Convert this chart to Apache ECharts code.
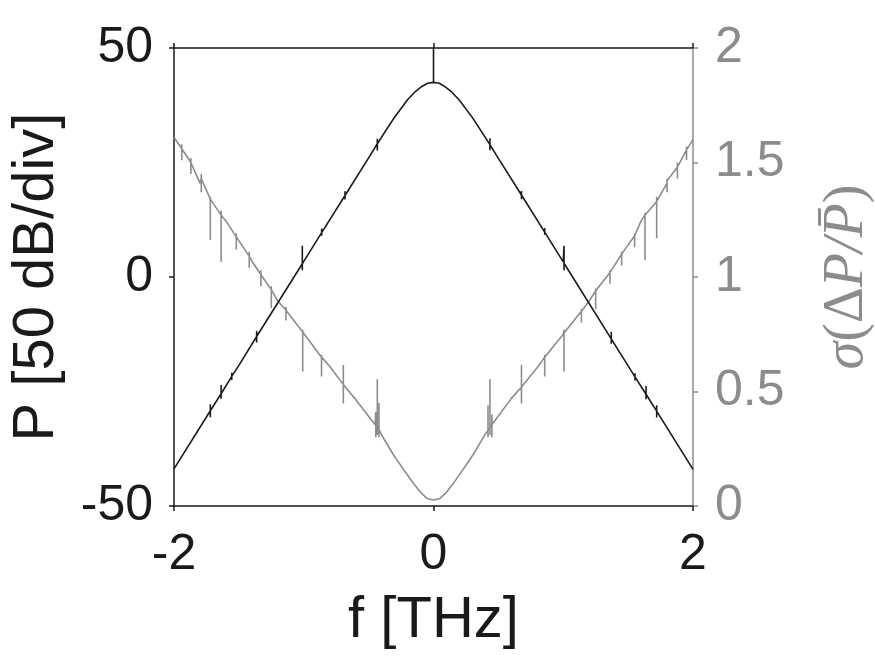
<!DOCTYPE html>
<html>
<head>
<meta charset="utf-8">
<script src="https://cdn.jsdelivr.net/npm/echarts@6/dist/echarts.min.js"></script>
<style>
  * { padding: 0; margin: 0; }
  html, body { width: 875px; height: 657px; background: #fff; }
  #chart { width: 875px; height: 657px; }
</style>
</head>
<body>
<div id="chart"></div>
<script>
// black curve: power spectrum [dB]
const powerX = [-2, -1.5, -1, -0.5, -0.3, -0.2, -0.14, -0.09, -0.045, 0, 0.045, 0.09, 0.14, 0.2, 0.3, 0.5, 1, 1.5, 2]
const powerDb = [-41.9, -19.3, 3.4, 26.0, 34.9, 38.7, 40.5, 41.6, 42.3, 42.5, 42.3, 41.5, 40.4, 38.6, 34.8, 25.9, 3.3, -19.4, -42.0]
// glitches on the black curve (x, value on curve, top, bottom)
const powerSpikeX = [-1.72, -1.637, -1.555, -1.363, -1.011, -0.862, -0.682, -0.433, 0, 0.435, 0.678, 0.857, 1.006, 1.37, 1.553, 1.638, 1.72]
const powerSpikeBase = [-29.2, -25.5, -21.7, -13.0, 2.9, 9.7, 17.8, 29.1, 42.5, 28.9, 17.9, 9.8, 3.0, -13.5, -21.8, -25.6, -29.3]
const powerSpikeHi = [-27.8, -23.6, -20.9, -11.8, 6.8, 10.6, 18.7, 30.2, 50, 30.3, 18.8, 10.7, 6.8, -12.0, -21.0, -23.8, -28.0]
const powerSpikeLo = [-30.6, -26.6, -22.5, -14.3, 1.5, 9.0, 16.9, 27.6, 42.5, 27.7, 17.0, 9.2, 1.5, -14.6, -22.6, -26.7, -30.7]

// gray curve: sigma(dP/P)
const sigmaX = [-2, -1.8, -1.6, -1.4, -1.2, -1.0, -0.8, -0.6, -0.45, -0.4, -0.31, -0.25, -0.155, -0.1, -0.05, 0, 0.05, 0.1, 0.155, 0.25, 0.31, 0.4, 0.45, 0.6, 0.8, 1.0, 1.2, 1.4, 1.6, 1.8, 2]
const sigmaV = [1.61, 1.41, 1.245, 1.07, 0.895, 0.755, 0.61, 0.465, 0.355, 0.31, 0.225, 0.175, 0.099, 0.06, 0.033, 0.026, 0.033, 0.06, 0.1, 0.178, 0.228, 0.315, 0.355, 0.47, 0.605, 0.75, 0.895, 1.055, 1.245, 1.41, 1.60]
const sigmaSpikeX = [-1.94, -1.87, -1.79, -1.72, -1.637, -1.52, -1.42, -1.33, -1.25, -1.137, -1.008, -0.863, -0.695, -0.445, -0.433, -0.42, 0.42, 0.435, 0.45, 0.678, 0.857, 1.006, 1.14, 1.25, 1.36, 1.45, 1.55, 1.63, 1.72, 1.80, 1.88, 1.95]
const sigmaSpikeBase = [1.56, 1.50, 1.43, 1.34, 1.27, 1.175, 1.09, 1.01, 0.945, 0.855, 0.76, 0.65, 0.53, 0.355, 0.345, 0.335, 0.33, 0.34, 0.355, 0.52, 0.65, 0.755, 0.85, 0.94, 1.02, 1.10, 1.18, 1.27, 1.33, 1.42, 1.48, 1.555]
const sigmaSpikeHi = [1.58, 1.52, 1.45, 1.35, 1.29, 1.19, 1.11, 1.03, 0.96, 0.87, 0.77, 0.66, 0.616, 0.41, 0.553, 0.45, 0.44, 0.553, 0.40, 0.616, 0.66, 0.77, 0.86, 0.95, 1.03, 1.11, 1.19, 1.28, 1.35, 1.43, 1.50, 1.57]
const sigmaSpikeLo = [1.51, 1.45, 1.37, 1.162, 1.067, 1.12, 1.04, 0.96, 0.865, 0.81, 0.587, 0.565, 0.448, 0.30, 0.31, 0.30, 0.30, 0.31, 0.30, 0.448, 0.565, 0.587, 0.80, 0.859, 0.97, 1.05, 1.13, 1.074, 1.169, 1.37, 1.43, 1.51]

const freqTicks = [-2, 0, 2]

const black = '#1a1a1a'
const gray = '#8c8c8c'

// merge the smooth curve and its glitches into one polyline, sorted on x
const buildLine = (xs, vs, sx, sb, sh, sl) => {
  const pts = xs.map((x, i) => [x, vs[i]])
  sx.forEach((x, i) => {
    pts.push([x, sb[i]], [x, sh[i]], [x, sl[i]], [x, sb[i]])
  })
  return pts.sort((a, b) => a[0] - b[0])
}

const powerLine = buildLine(powerX, powerDb, powerSpikeX, powerSpikeBase, powerSpikeHi, powerSpikeLo)
const sigmaLine = buildLine(sigmaX, sigmaV, sigmaSpikeX, sigmaSpikeBase, sigmaSpikeHi, sigmaSpikeLo)

const sans = 'Liberation Sans, Arial, sans-serif'

const charts = echarts.init(document.getElementById('chart'))
charts.setOption({
  animation: false,
  backgroundColor: '#fff',
  grid: { left: 174, right: 182, top: 48, bottom: 151, containLabel: false, outerBoundsMode: 'none' },
  xAxis: [
    {
      type: 'value',
      position: 'bottom',
      min: freqTicks[0],
      max: freqTicks[freqTicks.length - 1],
      interval: 2,
      name: 'f [THz]',
      nameLocation: 'middle',
      nameGap: 86,
      nameTextStyle: { fontSize: 58, color: black, fontFamily: sans },
      axisLine: { onZero: false, lineStyle: { color: black, width: 1.5 } },
      axisTick: { length: 5, lineStyle: { color: black, width: 1.5 } },
      axisLabel: { fontSize: 50, color: black, fontFamily: sans, margin: 24 },
      splitLine: { show: false }
    },
    {
      type: 'value',
      position: 'top',
      min: -2,
      max: 2,
      interval: 2,
      axisLine: { onZero: false, lineStyle: { color: black, width: 1.5 } },
      axisTick: { length: 5, lineStyle: { color: black, width: 1.5 } },
      axisLabel: { show: false },
      splitLine: { show: false }
    }
  ],
  yAxis: [
    {
      type: 'value',
      position: 'left',
      min: -50,
      max: 50,
      interval: 50,
      name: 'P [50 dB/div]',
      nameLocation: 'middle',
      nameRotate: 90,
      nameGap: 108,
      nameTextStyle: { fontSize: 58, color: black, fontFamily: sans },
      axisLine: { onZero: false, lineStyle: { color: black, width: 1.5 } },
      axisTick: { length: 5, lineStyle: { color: black, width: 1.5 } },
      axisLabel: { fontSize: 50, color: black, fontFamily: sans, margin: 21 },
      splitLine: { show: false }
    },
    {
      type: 'value',
      position: 'right',
      min: 0,
      max: 2,
      interval: 0.5,
      name: '{i|σ}{n|(Δ}{i|P/P̄}{n|)}',
      nameLocation: 'middle',
      nameRotate: 90,
      nameGap: 126,
      nameTextStyle: {
        color: gray,
        rich: {
          i: { fontSize: 56, color: gray, fontFamily: 'Liberation Serif, serif', fontStyle: 'italic' },
          n: { fontSize: 56, color: gray, fontFamily: 'Liberation Serif, serif' }
        }
      },
      axisLine: { onZero: false, lineStyle: { color: gray, width: 1.5 } },
      axisTick: { length: 5, lineStyle: { color: gray, width: 1.5 } },
      axisLabel: { fontSize: 50, color: gray, fontFamily: sans, margin: 22 },
      splitLine: { show: false }
    }
  ],
  series: [
    {
      type: 'line',
      yAxisIndex: 1,
      data: sigmaLine,
      showSymbol: false,
      symbol: 'none',
      lineStyle: { color: gray, width: 1.6 }
    },
    {
      type: 'line',
      yAxisIndex: 0,
      data: powerLine,
      showSymbol: false,
      symbol: 'none',
      lineStyle: { color: black, width: 1.6 }
    }
  ]
})
</script>
</body>
</html>
